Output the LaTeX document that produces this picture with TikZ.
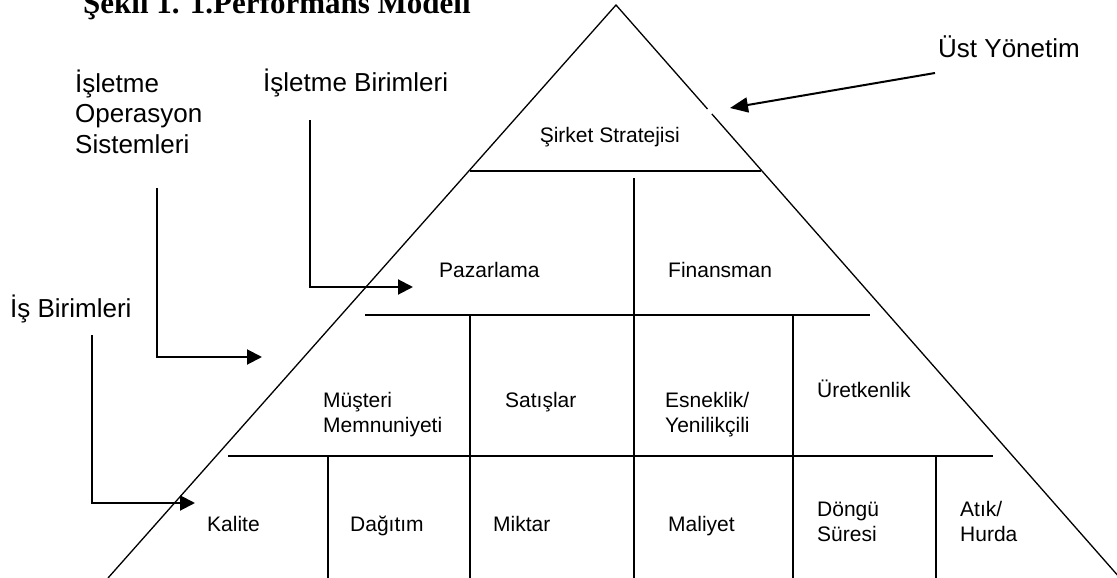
\documentclass[tikz,border=0pt]{standalone}
\usepackage{fontspec}
\setmainfont{Liberation Sans}
\newfontfamily\titlefont{Liberation Serif}
\usetikzlibrary{arrows.meta}
\begin{document}
\begin{tikzpicture}[x=1pt,y=-1pt,
  edge/.style={line width=1.3pt},
  rule/.style={line width=1.7pt},
  pointer/.style={line width=2pt,-{Triangle[length=15pt,width=15pt]}},
  inner/.style={font=\fontsize{21}{25}\selectfont,inner sep=0pt,anchor=base west,align=left},
  outer/.style={font=\fontsize{26}{30.5}\selectfont,inner sep=0pt,anchor=base west,align=left}]
\useasboundingbox (0,0) rectangle (1117,578);

% pyramid outline
\coordinate (apex) at (616,5);
\coordinate (bl) at (108,578);
\coordinate (br) at (1120,578);
\draw[edge] (bl) -- (apex) -- (707.5,109);
\draw[edge] (711.9,114) -- (br);

% tier dividers
\draw[rule] (470,171) -- (761,171);
\draw[rule] (634,178) -- (634,578);
\draw[rule] (365,315) -- (870,315);
\draw[rule] (470,315) -- (470,578);
\draw[rule] (793,315) -- (793,578);
\draw[rule] (228,456) -- (993,456);
\draw[rule] (328,456) -- (328,578);
\draw[rule] (936,456) -- (936,578);

% title
\node[font=\titlefont\fontsize{31}{37}\bfseries\selectfont,inner sep=0pt,anchor=base west] (title) at (83,14) {Şekil 1. 1.Performans Modeli};

% level labels (multi-line nodes are placed by the baseline of their last line)
\node[outer] (ust) at (938,58) {Üst Yönetim};
\node[outer] (ops) at (75,153) {İşletme\\Operasyon\\Sistemleri};
\node[outer] (ib) at (263,92) {İşletme Birimleri};
\node[outer] (is) at (10,317) {İş Birimleri};

% cell labels
\node[inner,anchor=base east] (strat) at (680,142) {Şirket Stratejisi};
\node[inner] (paz) at (439,277) {Pazarlama};
\node[inner] (fin) at (668,277) {Finansman};
\node[inner] (must) at (323,432) {Müşteri\\Memnuniyeti};
\node[inner] (sat) at (505,407) {Satışlar};
\node[inner] (esn) at (665,432) {Esneklik/\\Yenilikçili};
\node[inner] (ure) at (817,397) {Üretkenlik};
\node[inner] (kal) at (207,531) {Kalite};
\node[inner] (dag) at (350,531) {Dağıtım};
\node[inner] (mik) at (493,531) {Miktar};
\node[inner] (mal) at (668,531) {Maliyet};
\node[inner] (don) at (817,541) {Döngü\\Süresi};
\node[inner] (atik) at (960,541) {Atık/\\Hurda};

% pointers
\coordinate (ust-s) at (935,73);
\coordinate (ust-e) at (730,108);
\draw[line width=2pt,-{Triangle[length=18pt,width=15pt]}] (ust-s) -- (ust-e);
\coordinate (ib-s) at (310,120);
\coordinate (ib-e) at (413,287);
\draw[pointer] (ib-s) |- (ib-e);
\coordinate (ops-s) at (157,188);
\coordinate (ops-e) at (262,357);
\draw[pointer] (ops-s) |- (ops-e);
\coordinate (is-s) at (92,335);
\coordinate (is-e) at (195,503);
\draw[pointer] (is-s) |- (is-e);
\end{tikzpicture}
\end{document}
